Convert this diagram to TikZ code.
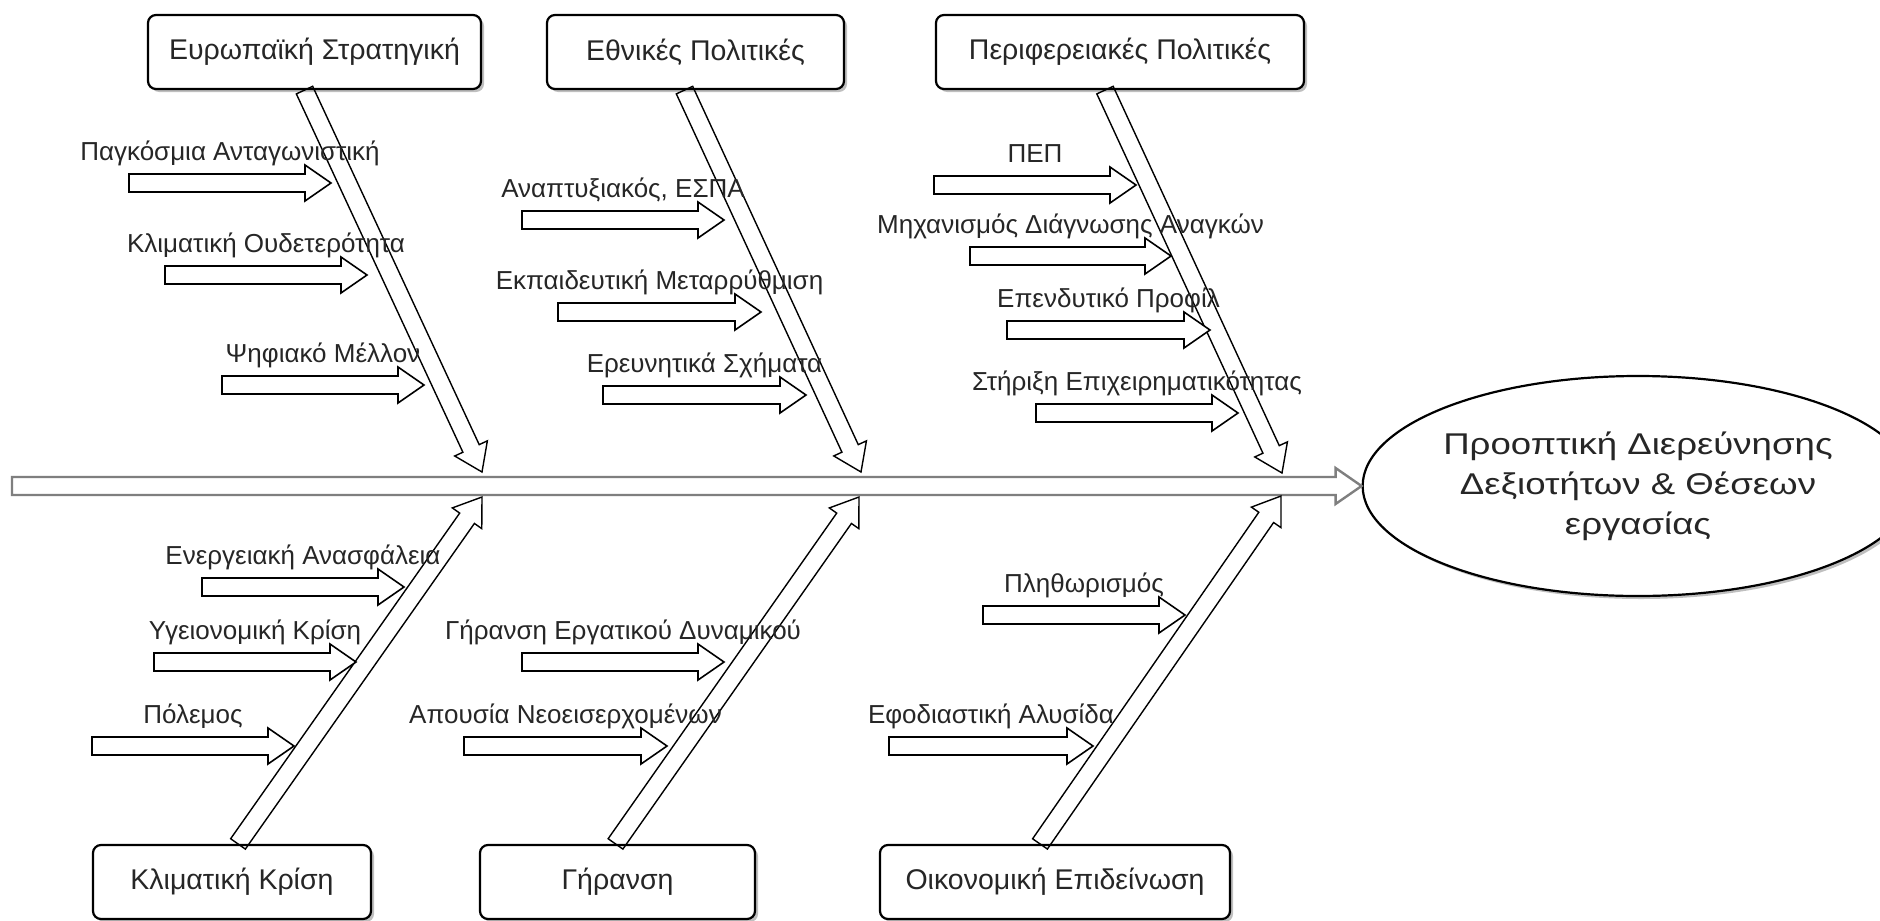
\documentclass[tikz,border=0pt]{standalone}
\usepackage{fontspec}
\setmainfont{Liberation Sans}
\newfontfamily\ellfont[FakeStretch=1.22]{Liberation Sans}
\usetikzlibrary{calc,shadows,shapes.geometric}
\definecolor{txt}{HTML}{262626}
\definecolor{spinegray}{HTML}{7F7F7F}
% block arrow: #1 style, #2 start, #3 tip
\newcommand\blockarr[3]{%
  \coordinate (bab) at ($(#3)!26pt!(#2)$);
  \draw[#1] ($(#2)!9pt!90:(#3)$) -- ($(bab)!9pt!90:(#3)$) -- ($(bab)!18pt!90:(#3)$) -- (#3)
    -- ($(bab)!18pt!-90:(#3)$) -- ($(bab)!9pt!-90:(#3)$) -- ($(#2)!9pt!-90:(#3)$) -- cycle;}
% sub arrow with label: #1 name, #2 x start, #3 x tip, #4 y, #5 text
\newcommand\causearr[5]{%
  \coordinate (#1s) at (#2,#4);
  \coordinate (#1t) at (#3,#4);
  \blockarr{subarr}{#1s}{#1t}
  \node[lab] (#1l) at ($(#1s)!0.5!(#1t)+(0,-23)$) {#5};}
\begin{document}
\begin{tikzpicture}[x=1pt,y=-1pt,
  box/.style={draw=black, line width=2.2pt, rounded corners=8pt, fill=white,
    minimum height=74pt, inner sep=0pt, text=txt, font=\fontsize{28.5}{33}\selectfont,
    drop shadow={shadow xshift=3pt, shadow yshift=-3pt, fill=black, opacity=0.25}},
  lab/.style={inner sep=0pt, text=txt, font=\fontsize{26}{31}\selectfont, anchor=base},
  subarr/.style={draw=black, line width=1.6pt, fill=white, line join=miter},
  ribarr/.style={draw=black, line width=1.4pt, line join=miter},
  spinearr/.style={draw=spinegray, line width=2.4pt, fill=white, line join=miter},
  goal/.style={draw=black, ellipse, line width=2.2pt, fill=white, minimum width=480pt,
    minimum height=220pt, inner sep=0pt, align=center, text=txt,
    font=\ellfont\fontsize{30}{40}\selectfont,
    drop shadow={shadow xshift=3pt, shadow yshift=-3pt, fill=black, opacity=0.25}},
]
\useasboundingbox (0,0) rectangle (1880,921);
\fill[white] (0,0) rectangle (1880,921);

% head and category boxes
\node[goal] (ell) at (1638,486) {Προοπτική Διερεύνησης\\Δεξιοτήτων \& Θέσεων\\εργασίας};
\node[box, minimum width=333pt] (eu)  at (314.5,52) {Ευρωπαϊκή Στρατηγική};
\node[box, minimum width=297pt] (eth) at (695.5,52) {Εθνικές Πολιτικές};
\node[box, minimum width=368pt] (per) at (1120,52) {Περιφερειακές Πολιτικές};
\node[box, minimum width=278pt] (klk) at (232,882) {Κλιματική Κρίση};
\node[box, minimum width=275pt] (ger) at (617.5,882) {Γήρανση};
\node[box, minimum width=350pt] (oik) at (1055,882) {Οικονομική Επιδείνωση};

% spine
\coordinate (sps) at (12,486);
\blockarr{spinearr}{sps}{ell.west}

% ribs
\coordinate (r1s) at ($(eu.south)+(-10,0)$);   \coordinate (r1t) at (482,472);
\coordinate (r2s) at ($(eth.south)+(-11,0)$);  \coordinate (r2t) at (861,472);
\coordinate (r3s) at ($(per.south)+(-15,0)$);  \coordinate (r3t) at (1282,473);
\coordinate (r4s) at ($(klk.north)+(6,0)$);    \coordinate (r4t) at (482,497);
\coordinate (r5s) at ($(ger.north)+(-2,0)$);   \coordinate (r5t) at (859,497);
\coordinate (r6s) at ($(oik.north)+(-15,0)$);  \coordinate (r6t) at (1281,496);
\blockarr{ribarr}{r1s}{r1t}
\blockarr{ribarr}{r2s}{r2t}
\blockarr{ribarr}{r3s}{r3t}
\blockarr{ribarr}{r4s}{r4t}
\blockarr{ribarr}{r5s}{r5t}
\blockarr{ribarr}{r6s}{r6t}

% causes
\causearr{a11}{129}{331}{183}{Παγκόσμια Ανταγωνιστική}
\causearr{a12}{165}{367}{275}{Κλιματική Ουδετερότητα}
\causearr{a13}{222}{424}{385}{Ψηφιακό Μέλλον}
\causearr{a21}{522}{724}{220}{Αναπτυξιακός, ΕΣΠΑ}
\causearr{a22}{558}{761}{312}{Εκπαιδευτική Μεταρρύθμιση}
\causearr{a23}{603}{806}{395}{Ερευνητικά Σχήματα}
\causearr{a31}{934}{1136}{185}{ΠΕΠ}
\causearr{a32}{970}{1171}{256}{Μηχανισμός Διάγνωσης Αναγκών}
\causearr{a33}{1007}{1210}{330}{Επενδυτικό Προφίλ}
\causearr{a34}{1036}{1238}{413}{Στήριξη Επιχειρηματικότητας}
\causearr{b11}{202}{404}{587}{Ενεργειακή Ανασφάλεια}
\causearr{b12}{154}{356}{662}{Υγειονομική Κρίση}
\causearr{b13}{92}{294}{746}{Πόλεμος}
\causearr{b21}{522}{724}{662}{Γήρανση Εργατικού Δυναμικού}
\causearr{b22}{464}{667}{746}{Απουσία Νεοεισερχομένων}
\causearr{b31}{983}{1185}{615}{Πληθωρισμός}
\causearr{b32}{889}{1093}{746}{Εφοδιαστική Αλυσίδα}
\end{tikzpicture}
\end{document}
